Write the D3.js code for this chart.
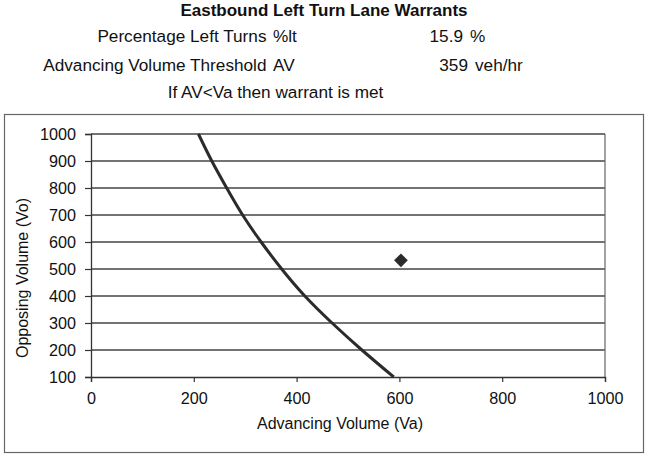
<!DOCTYPE html>
<html><head><meta charset="utf-8">
<script src="https://cdn.jsdelivr.net/npm/d3@7"></script>
<style>
html,body{margin:0;padding:0;background:#fff;}
text{font-family:"Liberation Sans",Arial,sans-serif;fill:#111;}
</style></head>
<body><svg id="c" width="647" height="455"></svg>
<script>
// data
const curveVo = [1000, 900, 800, 700, 600, 500, 400, 300, 200, 100];
const curveVa = [209, 235, 264, 295, 331, 371, 416, 469, 527, 589];
const pointVa = [603];
const pointVo = [532];
const xTicks = [0, 200, 400, 600, 800, 1000];
const yTicks = [100, 200, 300, 400, 500, 600, 700, 800, 900, 1000];
const title = "Eastbound Left Turn Lane Warrants";
const infoLabels = ["Percentage Left Turns", "Advancing Volume Threshold"];
const infoCodes = ["%lt", "AV"];
const infoValues = ["15.9", "359"];
const infoUnits = ["%", "veh/hr"];
const note = "If AV<Va then warrant is met";

const svg = d3.select("#c");
const x = d3.scaleLinear().domain([0, 1000]).range([91, 605]);
const y = d3.scaleLinear().domain([100, 1000]).range([377, 134]);

// header text
const hf = 17.2;
svg.append("text").attr("x", 324).attr("y", 16).attr("text-anchor", "middle")
  .attr("font-size", 17).attr("font-weight", "bold").text(title);
const rowY = [42, 71];
const valEnd = [463, 468];
infoLabels.forEach((t, i) => {
  svg.append("text").attr("x", 266.5).attr("y", rowY[i]).attr("text-anchor", "end").attr("font-size", hf).text(t);
  svg.append("text").attr("x", 273).attr("y", rowY[i]).attr("font-size", hf).text(infoCodes[i]);
  svg.append("text").attr("x", valEnd[i]).attr("y", rowY[i]).attr("text-anchor", "end").attr("font-size", hf).text(infoValues[i]);
  svg.append("text").attr("x", valEnd[i] + 7).attr("y", rowY[i]).attr("font-size", hf).text(infoUnits[i]);
});
svg.append("text").attr("x", 275.5).attr("y", 98).attr("text-anchor", "middle").attr("font-size", hf).text(note);

// chart box
svg.append("rect").attr("x", 4.5).attr("y", 114.5).attr("width", 639).attr("height", 338)
  .attr("fill", "none").attr("stroke", "#666").attr("stroke-width", 1.2);

// gridlines
svg.append("g").selectAll("line").data(yTicks.slice(1)).join("line")
  .attr("x1", x(0)).attr("x2", x(1000)).attr("y1", d => y(d)).attr("y2", d => y(d))
  .attr("stroke", "#444").attr("stroke-width", 1.3);
// right plot border
svg.append("line").attr("x1", x(1000)).attr("x2", x(1000)).attr("y1", y(1000)).attr("y2", y(100))
  .attr("stroke", "#666").attr("stroke-width", 1.2);

// axes
const xAxis = svg.append("g").attr("transform", `translate(0,${y(100)})`)
  .call(d3.axisBottom(x).tickValues(xTicks).tickSize(5).tickPadding(7).tickFormat(d3.format("d")));
const yAxis = svg.append("g").attr("transform", `translate(${x(0)},0)`)
  .call(d3.axisLeft(y).tickValues(yTicks).tickSize(6).tickPadding(9).tickFormat(d3.format("d")));
[xAxis, yAxis].forEach(g => {
  g.select(".domain").attr("stroke", "#333").attr("stroke-width", 1.3);
  g.selectAll(".tick line").attr("stroke", "#333").attr("stroke-width", 1.2);
  g.selectAll(".tick text").attr("font-size", 16.2).attr("fill", "#111")
    .attr("font-family", "Liberation Sans, Arial, sans-serif");
});
xAxis.selectAll(".tick text").attr("dy", "0.95em");

// axis titles
svg.append("text").attr("x", 340).attr("y", 429).attr("text-anchor", "middle")
  .attr("font-size", 16).text("Advancing Volume (Va)");
svg.append("text").attr("transform", `translate(28,278) rotate(-90)`)
  .attr("text-anchor", "middle").attr("font-size", 16).text("Opposing Volume (Vo)");

// curve
const pts = curveVo.map((v, i) => [curveVa[i], v]);
svg.append("path").datum(pts)
  .attr("d", d3.line().x(d => x(d[0])).y(d => y(d[1])).curve(d3.curveNatural))
  .attr("fill", "none").attr("stroke", "#2b2b2b").attr("stroke-width", 3);

// point
svg.append("g").selectAll("path").data(pointVa.map((v, i) => [v, pointVo[i]])).join("path")
  .attr("transform", d => `translate(${x(d[0])},${y(d[1])})`)
  .attr("d", d3.symbol().type(d3.symbolDiamond2).size(120))
  .attr("fill", "#2b2b2b");
</script></body></html>
